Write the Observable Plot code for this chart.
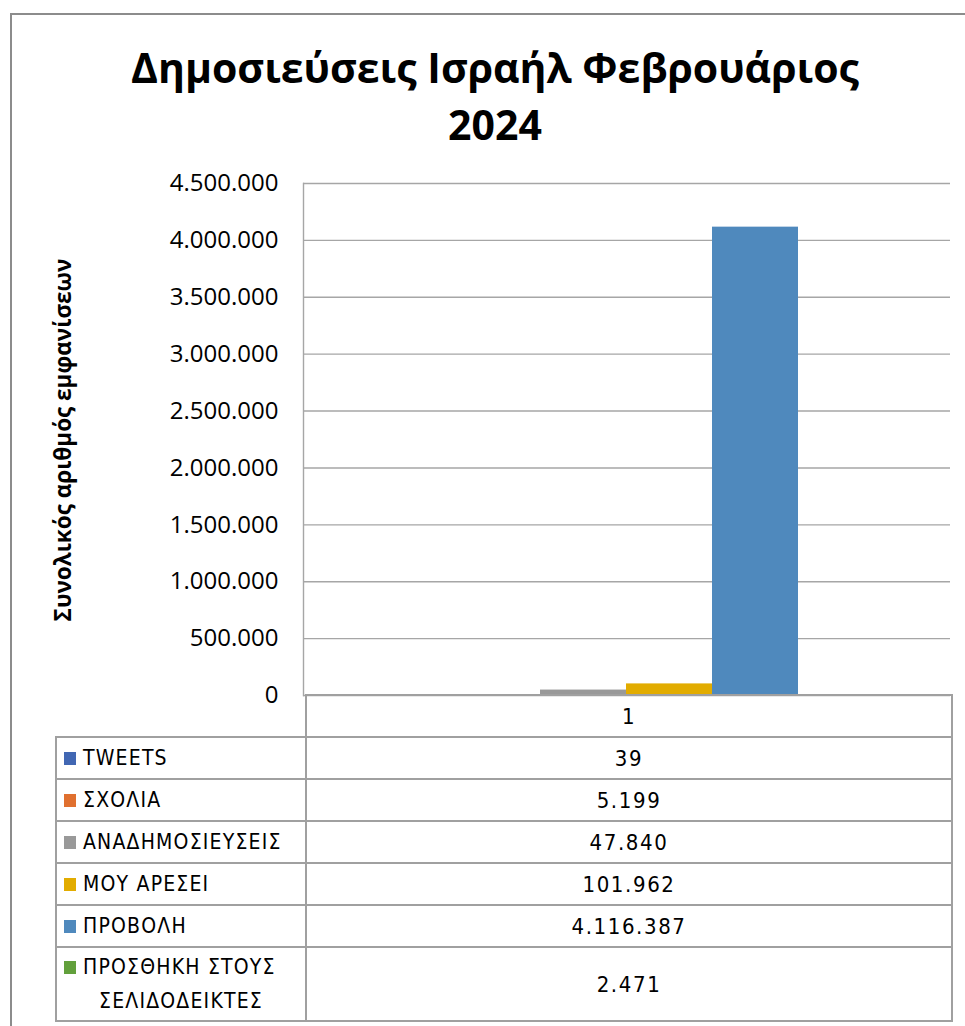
<!DOCTYPE html>
<html><head><meta charset="utf-8">
<script src="https://cdn.jsdelivr.net/npm/d3@7"></script>
<script src="https://cdn.jsdelivr.net/npm/@observablehq/plot@0.6"></script>
<style>
body{margin:0;background:#fff;width:965px;height:1026px;overflow:hidden;position:relative;font-family:"Open Sans",sans-serif;}
#frame{position:absolute;left:10px;top:13px;width:1000px;height:1100px;border-left:2px solid #8c8c8c;border-top:2px solid #8c8c8c;}
#title{position:absolute;left:0;width:990px;top:39px;text-align:center;font-weight:bold;font-size:41px;line-height:57px;color:#000;z-index:2;}
#chart{position:absolute;left:0;top:0;}
#ylab{position:absolute;left:62px;top:440px;transform:translate(-50%,-50%) rotate(-90deg);white-space:nowrap;font-weight:bold;font-size:22.5px;color:#000;}
#tbl{position:absolute;left:55px;top:694px;width:896px;table-layout:fixed;border-collapse:collapse;font-family:"DejaVu Sans Condensed",sans-serif;font-size:21px;letter-spacing:1.2px;color:#000;z-index:3;}
#tbl td{border:2px solid #a0a0a0;padding:0;white-space:nowrap;}
#tbl td.blank{border:none;}
#tbl td.name{text-align:left;padding-left:7px;}
#tbl td.val{text-align:center;font-size:22px;letter-spacing:1.6px;}
.sw{display:inline-block;width:12px;height:13px;margin-right:7px;vertical-align:0px;}
</style></head><body>
<div id="frame"></div>
<div id="title">Δημοσιεύσεις Ισραήλ Φεβρουάριος<br>2024</div>
<div id="chart"></div>
<div id="ylab">Συνολικός αριθμός εμφανίσεων</div>
<table id="tbl"><colgroup><col style="width:250px"><col style="width:646px"></colgroup><tbody id="tb"></tbody></table>
<script>
const series = ["TWEETS", "ΣΧΟΛΙΑ", "ΑΝΑΔΗΜΟΣΙΕΥΣΕΙΣ", "ΜΟΥ ΑΡΕΣΕΙ", "ΠΡΟΒΟΛΗ", "ΠΡΟΣΘΗΚΗ ΣΤΟΥΣ ΣΕΛΙΔΟΔΕΙΚΤΕΣ"];
const values = [39, 5199, 47840, 101962, 4116387, 2471];
const colors = ["#4167B3", "#E0702F", "#999999", "#E2AC00", "#4F89BD", "#62A03C"];
const category = "1";
const yTicks = [0, 500000, 1000000, 1500000, 2000000, 2500000, 3000000, 3500000, 4000000, 4500000];

const loc = d3.formatLocale({decimal: ",", thousands: ".", grouping: [3], currency: ["", ""]});
const fmt = loc.format(",d");
const data = series.map((s, i) => ({series: s, value: values[i]}));

const plot = Plot.plot({
  width: 965, height: 720,
  marginTop: 183, marginBottom: 25, marginLeft: 303, marginRight: 15,
  style: {background: "transparent", fontFamily: "Open Sans, sans-serif"},
  x: {domain: series, range: [368, 884], padding: 0, axis: null},
  y: {domain: [0, 4500000], ticks: yTicks},
  color: {domain: series, range: colors},
  marks: [
    Plot.ruleY(yTicks, {stroke: "#a6a6a6", strokeWidth: 1.4, strokeOpacity: 1}),
    Plot.frame({anchor: "left", stroke: "#a6a6a6", strokeWidth: 1.4}),
    Plot.barY(data, {x: "series", y: "value", fill: "series"}),
    Plot.axisY(yTicks, {tickSize: 0, tickPadding: 25, tickFormat: fmt, fontSize: 24, label: null, fill: "#000"})
  ]
});
document.getElementById("chart").appendChild(plot);

const tb = document.getElementById("tb");
let html = `<tr style="height:42px"><td class="blank"></td><td class="val">${category}</td></tr>`;
series.forEach((s, i) => {
  const sw = `<span class="sw" style="background:${colors[i]}"></span>`;
  if (i === series.length - 1) {
    const words = s.split(" ");
    const name = `<div style="line-height:34px">${sw}${words[0]} ${words[1]}</div><div style="line-height:34px;text-align:center;margin-left:-7px">${words[2]}</div>`;
    html += `<tr style="height:74px"><td class="name">${name}</td><td class="val">${fmt(values[i])}</td></tr>`;
  } else {
    html += `<tr style="height:42px"><td class="name">${sw}${s}</td><td class="val">${fmt(values[i])}</td></tr>`;
  }
});
tb.innerHTML = html;
</script>
</body></html>
